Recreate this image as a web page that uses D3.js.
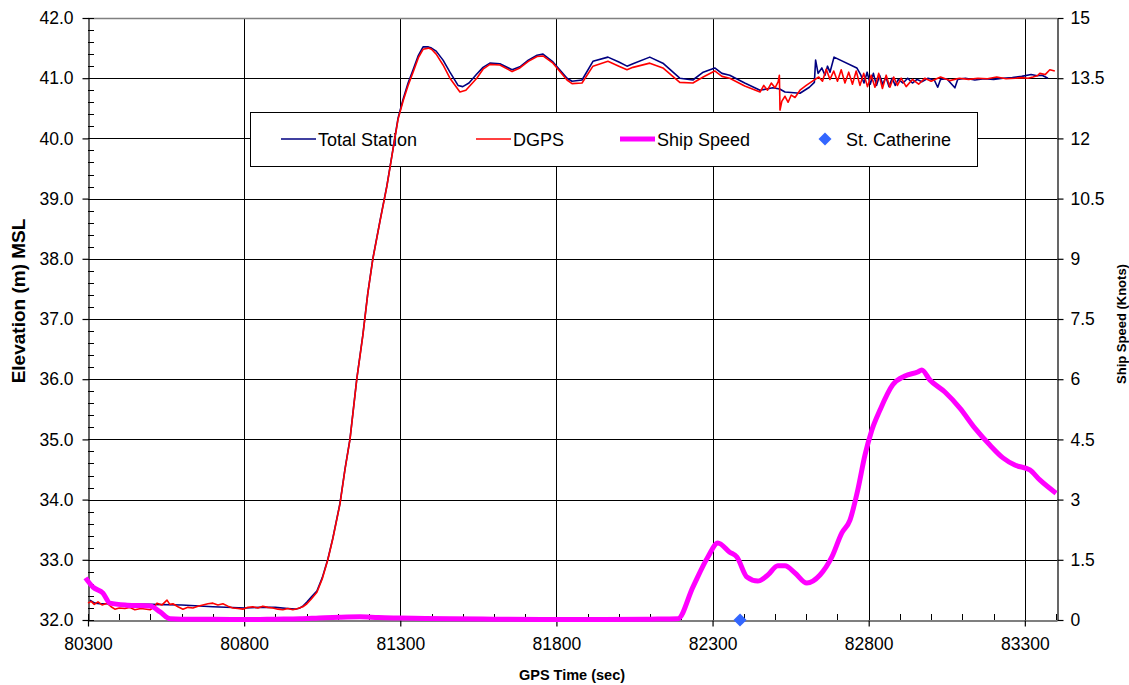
<!DOCTYPE html>
<html>
<head>
<meta charset="utf-8">
<script src="https://cdn.jsdelivr.net/npm/d3@7/dist/d3.min.js"></script>
<style>
  html, body { margin: 0; padding: 0; background: #fff; }
  svg { display: block; font-family: Arial, "Liberation Sans", sans-serif; }
</style>
</head>
<body>
<svg id="chart" width="1129" height="685"></svg>
<script>
// GPS time (sec) and elevation (m) for the Total Station track
const totalStationTime = [80306, 80322, 80338, 80400, 80500, 80600, 80700, 80803, 80850, 80900, 80940, 80963, 80979, 80990, 81001, 81015, 81033, 81050, 81068, 81084, 81107, 81123, 81139, 81161, 81180, 81196, 81212, 81235, 81257, 81273, 81293, 81309, 81325, 81341, 81358, 81373, 81390, 81400, 81415, 81437, 81459, 81485, 81500, 81520, 81545, 81565, 81587, 81619, 81658, 81683, 81710, 81738, 81757, 81789, 81834, 81850, 81882, 81917, 81965, 82000, 82026, 82045, 82099, 82141, 82195, 82237, 82270, 82307, 82330, 82355, 82403, 82452, 82493, 82515, 82532, 82580, 82610, 82626, 82630, 82638, 82650, 82660, 82668, 82676, 82689, 82762, 82775, 82785, 82795, 82805, 82815, 82825, 82835, 82845, 82855, 82865, 82875, 82885, 82895, 82910, 82925, 82940, 82955, 82970, 82990, 83010, 83021, 83030, 83050, 83076, 83085, 83110, 83140, 83170, 83200, 83230, 83260, 83290, 83320, 83340, 83355, 83374];
const totalStationElev = [32.33, 32.28, 32.27, 32.27, 32.26, 32.25, 32.22, 32.20, 32.21, 32.21, 32.19, 32.18, 32.20, 32.24, 32.30, 32.38, 32.48, 32.70, 33.01, 33.36, 33.94, 34.51, 35.01, 36.02, 36.73, 37.43, 38.00, 38.63, 39.21, 39.71, 40.34, 40.65, 40.92, 41.14, 41.38, 41.52, 41.52, 41.50, 41.45, 41.30, 41.10, 40.88, 40.86, 40.92, 41.07, 41.18, 41.25, 41.24, 41.14, 41.19, 41.30, 41.38, 41.40, 41.27, 41.00, 40.95, 40.97, 41.28, 41.35, 41.27, 41.20, 41.24, 41.35, 41.25, 41.00, 40.97, 41.10, 41.17, 41.08, 41.05, 40.92, 40.80, 40.84, 40.82, 40.77, 40.75, 40.85, 40.93, 41.30, 41.08, 41.17, 41.05, 41.20, 41.10, 41.35, 41.17, 41.05, 40.92, 41.10, 40.90, 41.08, 40.88, 41.05, 40.90, 41.02, 40.86, 41.00, 40.88, 40.98, 40.92, 41.00, 40.92, 40.98, 40.94, 41.00, 40.97, 40.85, 40.98, 40.99, 40.84, 40.98, 41.00, 40.97, 40.99, 40.98, 41.00, 41.01, 41.03, 41.06, 41.04, 41.05, 41.00];

// GPS time (sec) and elevation (m) for the DGPS track
const dgpsTime = [80300, 80310, 80320, 80332, 80345, 80361, 80374, 80386, 80400, 80418, 80433, 80450, 80470, 80499, 80512, 80521, 80537, 80553, 80562, 80572, 80588, 80604, 80620, 80636, 80652, 80668, 80684, 80700, 80716, 80732, 80748, 80764, 80780, 80796, 80812, 80828, 80844, 80860, 80876, 80892, 80908, 80924, 80940, 80956, 80972, 80988, 81001, 81015, 81033, 81050, 81068, 81084, 81107, 81123, 81139, 81161, 81180, 81196, 81212, 81235, 81257, 81273, 81293, 81309, 81325, 81341, 81358, 81373, 81390, 81400, 81415, 81437, 81459, 81491, 81510, 81545, 81565, 81587, 81619, 81658, 81683, 81710, 81738, 81757, 81789, 81834, 81850, 81882, 81917, 81965, 82000, 82026, 82045, 82099, 82141, 82195, 82237, 82270, 82307, 82330, 82355, 82403, 82452, 82464, 82476, 82488, 82500, 82510, 82514, 82516, 82522, 82532, 82542, 82552, 82564, 82580, 82600, 82620, 82640, 82652, 82664, 82676, 82688, 82700, 82712, 82724, 82736, 82748, 82760, 82772, 82784, 82796, 82808, 82820, 82832, 82844, 82856, 82868, 82880, 82892, 82904, 82920, 82940, 82960, 82980, 83000, 83030, 83060, 83090, 83120, 83150, 83180, 83210, 83240, 83270, 83290, 83310, 83326, 83340, 83348, 83365, 83380, 83396];
const dgpsElev = [32.28, 32.31, 32.26, 32.30, 32.25, 32.28, 32.22, 32.18, 32.20, 32.19, 32.21, 32.17, 32.19, 32.17, 32.22, 32.28, 32.25, 32.33, 32.26, 32.27, 32.22, 32.18, 32.21, 32.20, 32.23, 32.25, 32.27, 32.28, 32.25, 32.27, 32.23, 32.20, 32.19, 32.18, 32.21, 32.22, 32.20, 32.23, 32.21, 32.20, 32.18, 32.17, 32.19, 32.17, 32.19, 32.22, 32.27, 32.35, 32.46, 32.68, 33.00, 33.35, 33.93, 34.50, 35.00, 36.01, 36.72, 37.42, 37.99, 38.62, 39.20, 39.70, 40.32, 40.62, 40.88, 41.10, 41.34, 41.48, 41.50, 41.48, 41.40, 41.22, 41.00, 40.77, 40.80, 41.00, 41.15, 41.23, 41.22, 41.11, 41.17, 41.28, 41.36, 41.37, 41.25, 40.97, 40.91, 40.92, 41.20, 41.28, 41.20, 41.14, 41.18, 41.25, 41.17, 40.93, 40.92, 41.02, 41.12, 41.03, 41.00, 40.87, 40.77, 40.88, 40.80, 40.92, 40.84, 40.94, 41.05, 40.47, 40.62, 40.70, 40.60, 40.72, 40.68, 40.80, 40.88, 40.95, 41.02, 40.95, 41.15, 40.98, 41.12, 40.95, 41.14, 40.92, 41.10, 40.90, 41.12, 40.88, 41.08, 40.86, 41.05, 40.85, 41.08, 40.83, 41.05, 40.85, 41.02, 40.88, 41.00, 40.86, 40.98, 40.90, 41.00, 40.95, 41.02, 40.96, 41.00, 40.98, 41.00, 40.99, 41.02, 40.99, 41.00, 41.01, 41.00, 41.02, 41.04, 41.08, 41.06, 41.14, 41.12, 41.17, 41.10, 41.05, 41.00];

// GPS time (sec) and ship speed (knots)
const shipTime = [80292, 80316, 80348, 80370, 80425, 80499, 80531, 80563, 80600, 80700, 80819, 80900, 80979, 81040, 81107, 81171, 81230, 81299, 81380, 81459, 81600, 81779, 81950, 82100, 82189, 82237, 82285, 82317, 82355, 82378, 82410, 82445, 82477, 82509, 82532, 82564, 82602, 82644, 82682, 82714, 82740, 82765, 82788, 82810, 82836, 82877, 82916, 82957, 82970, 82996, 83044, 83092, 83140, 83188, 83230, 83268, 83316, 83348, 83400];
const shipSpeed = [1.05, 0.82, 0.67, 0.42, 0.37, 0.35, 0.20, 0.03, 0.02, 0.02, 0.01, 0.02, 0.03, 0.05, 0.07, 0.08, 0.06, 0.05, 0.04, 0.03, 0.02, 0.01, 0.01, 0.02, 0.03, 0.82, 1.57, 1.92, 1.69, 1.57, 1.07, 0.97, 1.12, 1.35, 1.35, 1.17, 0.92, 1.12, 1.57, 2.17, 2.49, 3.24, 4.11, 4.73, 5.23, 5.86, 6.08, 6.18, 6.23, 5.98, 5.68, 5.28, 4.78, 4.36, 4.04, 3.86, 3.74, 3.49, 3.16];

// St. Catherine marker
const stCatherineTime = [82388];
const stCatherineElev = [32.0];

// Axis ticks
const xTickValues = [80300, 80800, 81300, 81800, 82300, 82800, 83300];
const yLeftTickValues = [32, 33, 34, 35, 36, 37, 38, 39, 40, 41, 42];
const yRightTickValues = [0, 1.5, 3, 4.5, 6, 7.5, 9, 10.5, 12, 13.5, 15];
const legendLabels = ["Total Station", "DGPS", "Ship Speed", "St. Catherine"];

const svg = d3.select("#chart");
const margin = { left: 88, right: 1057, top: 18, bottom: 620 };

const x = d3.scaleLinear().domain([80300, 83403]).range([margin.left, margin.right]);
const yL = d3.scaleLinear().domain([32, 42]).range([margin.bottom, margin.top]);
const yR = d3.scaleLinear().domain([0, 15]).range([margin.bottom, margin.top]);

// Gridlines
const grid = svg.append("g");
grid.selectAll("line.h").data(yLeftTickValues.slice(1, -1)).join("line")
  .attr("x1", margin.left).attr("x2", margin.right)
  .attr("y1", d => Math.round(yL(d)) + 0.5).attr("y2", d => Math.round(yL(d)) + 0.5)
  .attr("stroke", "#000").attr("stroke-width", 1);
grid.selectAll("line.v").data(xTickValues.slice(1)).join("line")
  .attr("y1", margin.top).attr("y2", margin.bottom)
  .attr("x1", d => Math.round(x(d)) + 0.5).attr("x2", d => Math.round(x(d)) + 0.5)
  .attr("stroke", "#000").attr("stroke-width", 1);
// top border
svg.append("line")
  .attr("x1", margin.left).attr("x2", margin.right)
  .attr("y1", margin.top + 0.5).attr("y2", margin.top + 0.5)
  .attr("stroke", "#808080").attr("stroke-width", 1.5);

// Minor ticks (inside)
const minorY = d3.range(32, 42.001, 0.2);
svg.append("g").selectAll("line").data(minorY).join("line")
  .attr("x1", margin.left).attr("x2", margin.left + 6)
  .attr("y1", d => Math.round(yL(d)) + 0.5).attr("y2", d => Math.round(yL(d)) + 0.5)
  .attr("stroke", "#000");
const minorX = d3.range(80300, 83401, 100);
svg.append("g").selectAll("line").data(minorX).join("line")
  .attr("y1", margin.bottom).attr("y2", margin.bottom - 6)
  .attr("x1", d => Math.round(x(d)) + 0.5).attr("x2", d => Math.round(x(d)) + 0.5)
  .attr("stroke", "#000");

// Axes
const fmt1 = d3.format(".1f");
const axisL = svg.append("g").attr("transform", `translate(${margin.left + 0.5},0)`)
  .call(d3.axisLeft(yL).tickValues(yLeftTickValues).tickFormat(fmt1).tickSize(6).tickPadding(9).tickSizeOuter(0));
const axisB = svg.append("g").attr("transform", `translate(0,${margin.bottom + 0.5})`)
  .call(d3.axisBottom(x).tickValues(xTickValues).tickFormat(d3.format("d")).tickSize(6).tickPadding(11).tickSizeOuter(0));
const axisR = svg.append("g").attr("transform", `translate(${margin.right + 0.5},0)`)
  .call(d3.axisRight(yR).tickValues(yRightTickValues).tickFormat(d => String(d)).tickSize(6).tickPadding(7).tickSizeOuter(0));
[axisL, axisB, axisR].forEach(a => {
  a.selectAll("text").attr("font-size", 17.5).attr("fill", "#000")
    .attr("font-family", "Arial, 'Liberation Sans', sans-serif");
  a.selectAll("line, path").attr("stroke", "#000").attr("stroke-width", 1.2);
});

// diamond marker: a square turned 45 degrees
const diamondPath = d3.symbol().type(d3.symbolSquare).size(85);

// Legend (sits beneath the data lines)
const lg = svg.append("g");
lg.append("rect").attr("x", 250.5).attr("y", 112.5).attr("width", 727).attr("height", 54)
  .attr("fill", "#fff").attr("stroke", "#000").attr("stroke-width", 1);
const legendItems = [
  { sx: 281, tx: 318, kind: "line", color: "#000080", w: 1.6 },
  { sx: 476, tx: 513, kind: "line", color: "#ff0000", w: 1.6 },
  { sx: 620, tx: 657, kind: "line", color: "#ff00ff", w: 5 },
  { sx: 825, tx: 846, kind: "diamond", color: "#3366ff" }
];
legendItems.forEach((it, i) => {
  if (it.kind === "line") {
    lg.append("line").attr("x1", it.sx).attr("x2", it.sx + 35).attr("y1", 139).attr("y2", 139)
      .attr("stroke", it.color).attr("stroke-width", it.w);
  } else {
    lg.append("path").attr("d", diamondPath).attr("transform", `translate(${it.sx},139) rotate(45)`).attr("fill", it.color);
  }
  lg.append("text").attr("x", it.tx).attr("y", 145.5).attr("font-size", 18).text(legendLabels[i]);
});

// Series
const lineL = (xs, ys) => d3.line().x((d, i) => x(xs[i])).y((d, i) => yL(ys[i]))(xs);
const lineR = (xs, ys) => d3.line().curve(d3.curveMonotoneX).x((d, i) => x(xs[i])).y((d, i) => yR(ys[i]))(xs);

svg.append("path").attr("d", lineL(totalStationTime, totalStationElev))
  .attr("fill", "none").attr("stroke", "#000080").attr("stroke-width", 1.6).attr("stroke-linejoin", "round");
svg.append("path").attr("d", lineL(dgpsTime, dgpsElev))
  .attr("fill", "none").attr("stroke", "#ff0000").attr("stroke-width", 1.6).attr("stroke-linejoin", "round");
svg.append("path").attr("d", lineR(shipTime, shipSpeed))
  .attr("fill", "none").attr("stroke", "#ff00ff").attr("stroke-width", 5).attr("stroke-linejoin", "round");

svg.append("g").selectAll("path").data(stCatherineTime).join("path")
  .attr("d", diamondPath)
  .attr("transform", (d, i) => `translate(${x(d)},${yL(stCatherineElev[i])}) rotate(45)`)
  .attr("fill", "#3366ff");

// Axis titles
svg.append("text").attr("transform", "translate(25,301) rotate(-90)")
  .attr("text-anchor", "middle").attr("font-size", 19).attr("font-weight", "bold")
  .text("Elevation (m) MSL");
svg.append("text").attr("transform", "translate(1126,324) rotate(-90)")
  .attr("text-anchor", "middle").attr("font-size", 13).attr("font-weight", "bold")
  .text("Ship Speed (Knots)");
svg.append("text").attr("x", 572).attr("y", 680)
  .attr("text-anchor", "middle").attr("font-size", 14.5).attr("font-weight", "bold")
  .text("GPS Time (sec)");
</script>
</body>
</html>
